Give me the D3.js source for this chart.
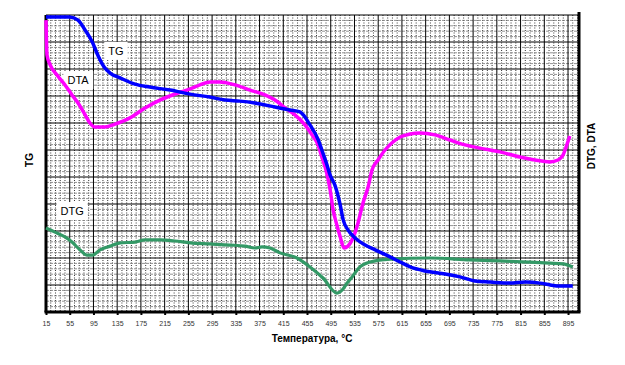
<!DOCTYPE html>
<html><head><meta charset="utf-8">
<script src="https://cdn.jsdelivr.net/npm/d3@7"></script>
<style>body{margin:0;background:#fff}svg{display:block}</style>
</head><body><svg id="c" width="625" height="365"></svg>
<script>
const xTicks = d3.range(15, 896, 40);
const tgT   = [15,55,69,81,93,103,113,123,140,165,190,224,258,291,317,342,367,401,426,443,460,474,480,487,494,502,511,516,524,536,553,570,595,612,629,654,688,713,738,764,797,823,848,865,882,903];
const tgV   = [109.3,109.3,108.1,104.4,100,94.8,90.7,88.5,86.7,84.4,83.3,82.2,80.7,79.6,78.5,78.1,77.4,75.9,74.8,74.1,69.3,63.7,60,55.6,50.7,47,39.6,34.1,30.4,27.4,24.8,23,20.4,18.5,16.7,15.2,14.1,13,11.5,11.1,10.7,11.1,10.7,10,9.6,9.6];
const dtaT  = [15,16.7,22,33.5,47,58.8,69,81,89,97.6,114.5,131.3,156.6,182,207,232.5,258,274.6,291.5,308,333.6,359,384,401,418,434.7,451.6,463.4,473.5,480,487,494,499,504,511,517.4,524,532.5,541,549.4,558,564.6,574.7,586.5,598,612,628.6,645.5,670.8,696,721.3,746.6,780.3,814,839.3,864.6,878,886.5,893,898];
const dtaV  = [108.1,95.2,91.5,87.8,84.1,80.4,77.4,73,70,68.5,68.5,69.6,71.9,75.6,78.5,80.7,82.6,84.1,85.2,85.2,84.1,82.2,80.4,78.5,75.6,73,69.3,65.6,61.9,57.4,52.6,45.2,37.8,33.3,27.8,23.7,24.4,27.4,33,40.4,46.3,52.6,56.3,60,62.6,64.8,65.9,66.3,65.6,63.7,61.9,60.7,59.3,57.4,56.3,55.6,56.3,58.1,61.9,65.2];
const dtgT  = [15,30,47,58.8,72.3,84,94,106,123,140,165,182,207,232.5,258,291.5,325,350.5,367.3,379,392.6,409.5,438,460,482,505.6,515.7,522.5,531,544.3,561.2,595,662.3,730,780.3,831,864.6,886.5,903];
const dtgV  = [31.1,29.6,27.8,25.9,23,21.1,21.1,23,24.4,25.6,25.9,26.7,26.7,26.3,25.6,25.2,24.8,24.4,23.7,24.1,23.7,21.9,20,16.7,12.6,7,8.5,10.7,13,16.7,18.5,19.6,20,19.3,18.9,18.5,18.1,17.8,16.7];
const labelText = ["TG", "DTA", "DTG"];
const labelT    = [133, 69, 59];
const labelV    = [96.7, 85.9, 37.4];

const svg = d3.select("#c");
const L=46, R=579, T=15, B=312;
const x = d3.scaleLinear().domain([15, 913.5]).range([L, R]);
const yL = d3.scaleLinear().domain([0, 110]).range([B, T]);
const yR = d3.scaleLinear().domain([0, 110]).range([B, T]);

const g = svg.append("g");
// minor grid
g.selectAll(".vm").data(d3.range(15, 913.5, 8).filter(d => (d-15)%40 !== 0)).join("line")
  .attr("x1", d=>x(d)).attr("x2", d=>x(d)).attr("y1", T).attr("y2", B)
  .attr("stroke", "#000").attr("stroke-width", 0.8).attr("stroke-dasharray", "1,1.5");
g.selectAll(".hm").data(d3.range(0, 110, 2).filter(d => d%10 !== 0)).join("line")
  .attr("x1", L).attr("x2", R).attr("y1", d=>yL(d)).attr("y2", d=>yL(d))
  .attr("stroke", "#777").attr("stroke-width", 0.8).attr("stroke-dasharray", "3,1");
// major grid
g.selectAll(".vM").data(d3.range(15, 913.5, 40)).join("line")
  .attr("x1", d=>x(d)).attr("x2", d=>x(d)).attr("y1", T).attr("y2", B)
  .attr("stroke", "#000").attr("stroke-width", 1);
g.selectAll(".hM").data(d3.range(10, 111, 10)).join("line")
  .attr("x1", L).attr("x2", R).attr("y1", d=>yL(d)).attr("y2", d=>yL(d))
  .attr("stroke", "#000").attr("stroke-width", 1);

// series labels (under the curves)
labelText.forEach((s, i) => {
  const t = svg.append("text").attr("x", x(labelT[i])).attr("y", yL(labelV[i])).attr("text-anchor","middle").attr("dominant-baseline","central")
    .attr("font-family","Liberation Sans, Arial, sans-serif").attr("font-size", 11).text(s);
  const bb = t.node().getBBox();
  svg.insert("rect", () => t.node()).attr("x", bb.x-4).attr("y", bb.y-3).attr("width", bb.width+8).attr("height", bb.height+6).attr("fill","#fff");
});

// axes
const xa = svg.append("g").attr("transform", `translate(0,${B})`)
  .call(d3.axisBottom(x).tickValues(xTicks).tickSize(3).tickSizeOuter(0).tickPadding(6));
xa.select(".domain").remove();
xa.selectAll(".tick line").attr("stroke", "#000").attr("stroke-width", 2);
xa.selectAll("text").attr("font-family", "Liberation Sans, Arial, sans-serif").attr("font-size", 7).attr("fill", "#333");

svg.append("line").attr("x1", L-1.5).attr("x2", R+1.5).attr("y1", B).attr("y2", B).attr("stroke", "#000").attr("stroke-width", 3);
svg.append("line").attr("x1", L).attr("x2", L).attr("y1", T).attr("y2", B).attr("stroke", "#000").attr("stroke-width", 3);
svg.append("line").attr("x1", R).attr("x2", R).attr("y1", T-3).attr("y2", B).attr("stroke", "#000").attr("stroke-width", 3);

const line = (ts, vs, y) => d3.line().x((d,i)=>x(ts[i])).y((d,i)=>y(vs[i])).curve(d3.curveMonotoneX)(ts);
svg.append("path").attr("d", line(dtgT, dtgV, yR)).attr("fill","none").attr("stroke","#339966").attr("stroke-width",3.2).attr("stroke-linejoin","round");
svg.append("path").attr("d", line(dtaT, dtaV, yR)).attr("fill","none").attr("stroke","#ff00ff").attr("stroke-width",3.5).attr("stroke-linejoin","round");
svg.append("path").attr("d", line(tgT, tgV, yL)).attr("fill","none").attr("stroke","#0000ff").attr("stroke-width",3.5).attr("stroke-linejoin","round");

svg.append("text").attr("x", 312).attr("y", 342).attr("text-anchor","middle")
  .attr("font-family","Liberation Sans, Arial, sans-serif").attr("font-size", 10).attr("font-weight","bold")
  .text("Температура,  °C");
svg.append("text").attr("transform","translate(33,160) rotate(-90)").attr("text-anchor","middle")
  .attr("font-family","Liberation Sans, Arial, sans-serif").attr("font-size", 10).attr("font-weight","bold").text("TG");
svg.append("text").attr("transform","translate(595,146) rotate(-90)").attr("text-anchor","middle")
  .attr("font-family","Liberation Sans, Arial, sans-serif").attr("font-size", 10).attr("font-weight","bold").text("DTG, DTA");
</script></body></html>
